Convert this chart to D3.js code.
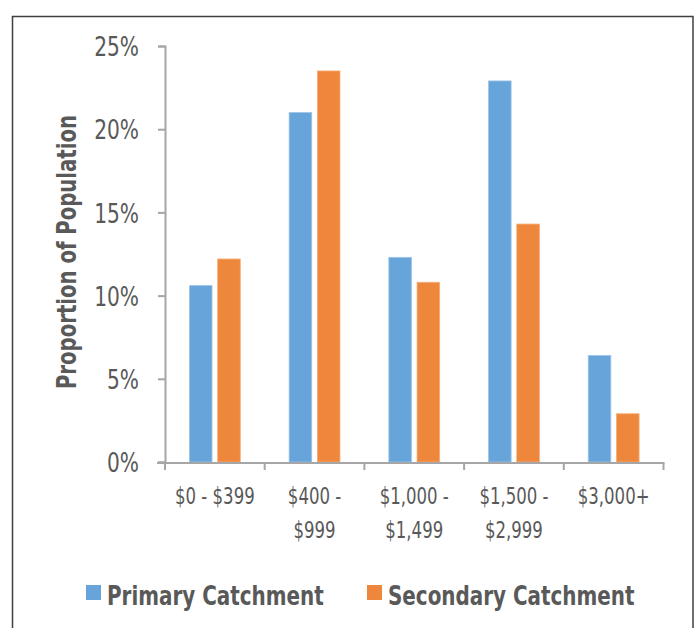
<!DOCTYPE html>
<html>
<head>
<meta charset="utf-8">
<script src="https://cdn.jsdelivr.net/npm/d3@7"></script>
<style>
  html, body { margin: 0; padding: 0; background: #ffffff; }
  svg { display: block; }
  text { font-family: "DejaVu Sans Condensed", "DejaVu Sans", sans-serif; }
</style>
</head>
<body>
<svg id="chart" width="696" height="628"></svg>
<script>
// Monthly income bands and the share of population in each catchment (%)
const categories = ["$0 - $399", "$400 - $999", "$1,000 - $1,499", "$1,500 - $2,999", "$3,000+"];
const categoryLines = [["$0 - $399"], ["$400 -", "$999"], ["$1,000 -", "$1,499"], ["$1,500 -", "$2,999"], ["$3,000+"]];
const seriesNames = ["Primary Catchment", "Secondary Catchment"];
const primary = [10.6, 21.0, 12.3, 22.9, 6.4];
const secondary = [12.2, 23.5, 10.8, 14.3, 2.9];
const yTicks = [0, 5, 10, 15, 20, 25];
const seriesColors = ["#67a4da", "#ee873b"];

const svg = d3.select("#chart");
const textColor = "#595959";
const axisColor = "#a6a6a6";

// squeeze text horizontally to get a narrow, condensed look
function condense(sel, factor) {
  sel.each(function () {
    const w = this.getComputedTextLength();
    d3.select(this)
      .attr("textLength", (w * factor).toFixed(1))
      .attr("lengthAdjust", "spacingAndGlyphs");
  });
}

// outer frame
svg.append("rect")
  .attr("x", 12.5).attr("y", 16.5)
  .attr("width", 680.5).attr("height", 640)
  .attr("fill", "none")
  .attr("stroke", "#3f3f3f")
  .attr("stroke-width", 1.5);

const plot = { left: 165, right: 663.5, top: 46, bottom: 462 };

const x = d3.scaleBand()
  .domain(categories)
  .range([plot.left, plot.right])
  .paddingInner(0).paddingOuter(0);

const y = d3.scaleLinear()
  .domain([0, 25])
  .range([plot.bottom, plot.top]);

const inner = d3.scaleBand()
  .domain(seriesNames)
  .range([x.bandwidth() * 0.245, x.bandwidth() * 0.755])
  .paddingInner(0.2);

const rows = categories.map((c, i) => ({ cat: c, values: [primary[i], secondary[i]] }));

// bars
const groups = svg.append("g").selectAll("g")
  .data(rows).join("g")
  .attr("transform", d => `translate(${x(d.cat)},0)`);

groups.selectAll("rect")
  .data(d => d.values.map((v, k) => ({ name: seriesNames[k], v, k })))
  .join("rect")
  .attr("x", d => inner(d.name))
  .attr("width", inner.bandwidth())
  .attr("y", d => y(d.v))
  .attr("height", d => y(0) - y(d.v))
  .attr("fill", d => seriesColors[d.k])
  .attr("stroke", d => d.k === 0 ? "#9cc4e8" : "#f4ad78")
  .attr("stroke-width", 0.8);

// y axis
const yAxis = d3.axisLeft(y)
  .tickValues(yTicks)
  .tickSize(7)
  .tickPadding(19)
  .tickFormat(d => d + "%");

const yg = svg.append("g")
  .attr("transform", `translate(${plot.left},0)`)
  .call(yAxis);
yg.select(".domain").attr("stroke", axisColor).attr("stroke-width", 2);
yg.selectAll(".tick line").attr("stroke", axisColor).attr("stroke-width", 2);
yg.selectAll(".tick text")
  .attr("fill", textColor)
  .style("font-size", "27px")
  .attr("dy", "0.36em")
  .call(condense, 0.83);

// x axis
const xAxis = d3.axisBottom(x).tickSize(0).tickFormat("");
const xg = svg.append("g")
  .attr("transform", `translate(0,${plot.bottom + 1})`)
  .call(xAxis);
xg.select(".domain").remove();
xg.append("line")
  .attr("x1", plot.left - 8).attr("x2", plot.right + 1)
  .attr("stroke", axisColor).attr("stroke-width", 2);
xg.selectAll(".boundary")
  .data(categories.map(c => x(c)).concat([plot.right]))
  .join("line")
  .attr("class", "boundary")
  .attr("x1", d => d).attr("x2", d => d)
  .attr("y1", 0).attr("y2", 7)
  .attr("stroke", axisColor).attr("stroke-width", 2);

// category labels, wrapped onto two lines
const catGroups = xg.selectAll(".cat")
  .data(categories)
  .join("g")
  .attr("class", "cat")
  .attr("transform", d => `translate(${x(d) + x.bandwidth() / 2},41)`);
catGroups.selectAll("text")
  .data((d, i) => categoryLines[i])
  .join("text")
  .attr("text-anchor", "middle")
  .attr("fill", textColor)
  .style("font-size", "23px")
  .attr("y", (l, j) => j * 34)
  .text(l => l)
  .call(condense, 0.8);

// y axis title
svg.append("text")
  .attr("transform", `translate(76,${(plot.top + plot.bottom) / 2 - 2}) rotate(-90)`)
  .attr("text-anchor", "middle")
  .attr("fill", textColor)
  .style("font-size", "27px")
  .style("font-weight", "bold")
  .text("Proportion of Population")
  .call(condense, 0.81);

// legend
const legendX = [86, 367];
const legend = svg.append("g").selectAll("g")
  .data(seriesNames).join("g")
  .attr("transform", (d, i) => `translate(${legendX[i]},585)`);
legend.append("rect")
  .attr("width", 15).attr("height", 15)
  .attr("fill", (d, i) => seriesColors[i]);
legend.append("text")
  .attr("x", 21).attr("y", 20)
  .attr("fill", textColor)
  .style("font-size", "27px")
  .style("font-weight", "bold")
  .text(d => d)
  .call(condense, 0.82);
</script>
</body>
</html>
